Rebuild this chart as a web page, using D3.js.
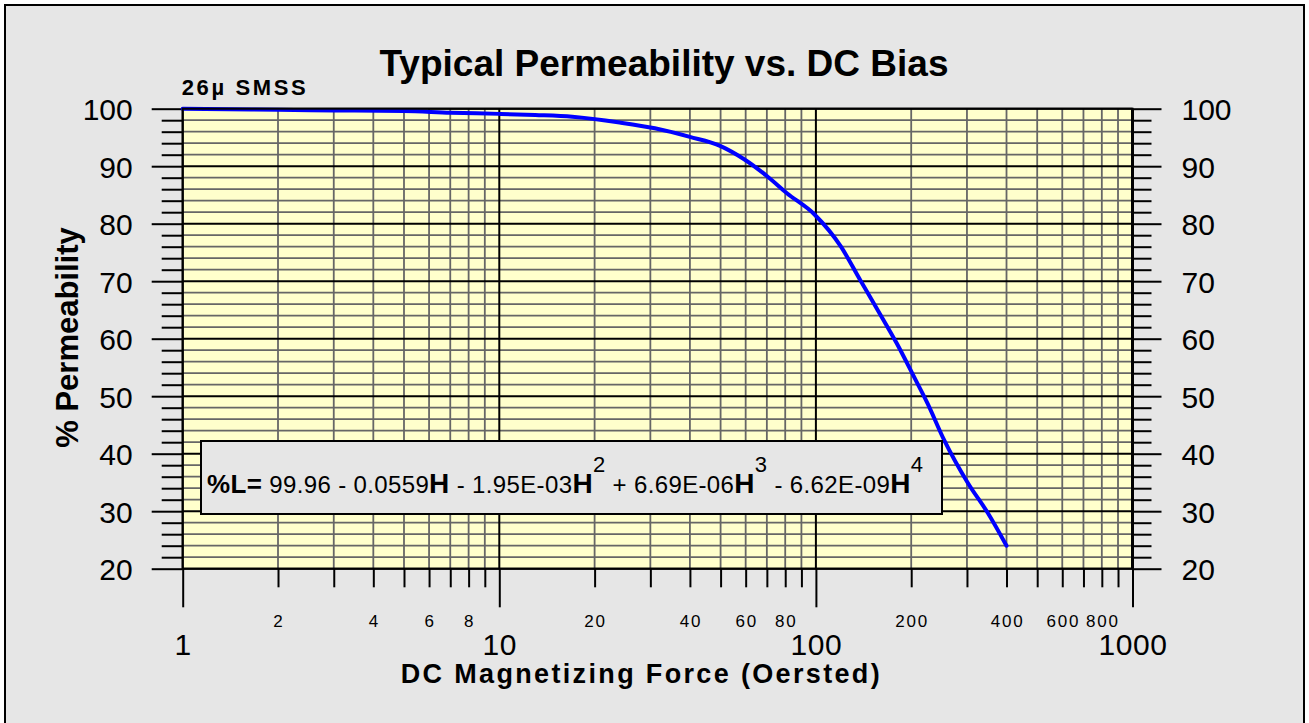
<!DOCTYPE html>
<html>
<head>
<meta charset="utf-8">
<script src="https://cdn.jsdelivr.net/npm/d3@7"></script>
<style>
  body { margin: 0; background: #fff; }
  text { font-family: "Liberation Sans", Arial, sans-serif; fill: #000; }
</style>
</head>
<body>
<div id="chart"></div>
<script>
// curve (H in Oersted, % permeability)
const fieldH = [1, 2, 3, 5, 7, 10, 13, 17, 24, 31, 40, 50, 59, 70, 81, 99, 120, 138, 159, 180, 204, 225, 254, 302, 350, 400];
const permeability = [100, 99.8, 99.7, 99.6, 99.3, 99.1, 98.9, 98.6, 97.6, 96.6, 95.1, 93.5, 91.3, 88.3, 85.3, 81.6, 76.0, 70.2, 64.4, 59.2, 53.4, 48.8, 42.4, 34.9, 29.6, 24.0];

// tick values / labels
const yMajor = [20, 30, 40, 50, 60, 70, 80, 90, 100];
const yMinor = d3.range(22, 100, 2).filter(v => v % 10 !== 0);
const xMajor = [1, 10, 100, 1000];
const xMinor = [2, 3, 4, 5, 6, 7, 8, 9, 20, 30, 40, 50, 60, 70, 80, 90, 200, 300, 400, 500, 600, 700, 800, 900];
const xMinorLabels = [2, 4, 6, 8, 20, 40, 60, 80, 200, 400, 600, 800];

const title = "Typical Permeability vs. DC Bias";
const subtitle = "26\u00b5 SMSS";
const yTitle = "% Permeability";
const xTitle = "DC Magnetizing Force (Oersted)";

// equation pieces: text, bold, superscript
const equation = [
    ["%L=", true, false], [" 99.96 - 0.0559", false, false], ["H", true, false],
    [" - 1.95E-03", false, false], ["H", true, false], ["2", false, true],
    [" + 6.69E-06", false, false], ["H", true, false], ["3", false, true],
    [" - 6.62E-09", false, false], ["H", true, false], ["4", false, true]
];

const W = 1309, H = 723;
const plot = { left: 182.7, right: 1132.5, top: 108.7, bottom: 568.7 };

const x = d3.scaleLog().domain([1, 1000]).range([plot.left, plot.right]);
const y = d3.scaleLinear().domain([20, 100]).range([plot.bottom, plot.top]);

const svg = d3.select("#chart").append("svg").attr("width", W).attr("height", H);

// chart area
svg.append("rect").attr("x", 5).attr("y", 5).attr("width", 1299).attr("height", 740)
    .attr("fill", "#e6e6e6").attr("stroke", "#000").attr("stroke-width", 2);

svg.append("rect").attr("x", plot.left).attr("y", plot.top)
    .attr("width", plot.right - plot.left).attr("height", plot.bottom - plot.top)
    .attr("fill", "#ffffcc");

// gridlines
const grid = svg.append("g");
grid.selectAll("line.hminor").data(yMinor).join("line").attr("class", "hminor")
    .attr("x1", plot.left).attr("x2", plot.right).attr("y1", d => y(d)).attr("y2", d => y(d))
    .attr("stroke", "#666").attr("stroke-width", 1.8);
grid.selectAll("line.vminor").data(xMinor).join("line").attr("class", "vminor")
    .attr("y1", plot.top).attr("y2", plot.bottom).attr("x1", d => x(d)).attr("x2", d => x(d))
    .attr("stroke", "#666").attr("stroke-width", 1.8);
grid.selectAll("line.hmajor").data(yMajor).join("line").attr("class", "hmajor")
    .attr("x1", plot.left).attr("x2", plot.right).attr("y1", d => y(d)).attr("y2", d => y(d))
    .attr("stroke", "#000").attr("stroke-width", 2);
grid.selectAll("line.vmajor").data(xMajor).join("line").attr("class", "vmajor")
    .attr("y1", plot.top).attr("y2", plot.bottom).attr("x1", d => x(d)).attr("x2", d => x(d))
    .attr("stroke", "#000").attr("stroke-width", d => d === 1000 ? 3 : 2);

// axes
const styleAxis = g => {
    g.select(".domain").remove();
    g.selectAll(".tick line").attr("stroke", "#000").attr("stroke-width", 2);
};

svg.append("g").attr("transform", `translate(${plot.left},0)`)
    .call(d3.axisLeft(y).tickValues(yMinor).tickSize(21).tickFormat(""))
    .call(styleAxis);
svg.append("g").attr("transform", `translate(${plot.left},0)`)
    .call(d3.axisLeft(y).tickValues(yMajor).tickSize(31).tickPadding(19).tickFormat(d3.format("d")))
    .call(styleAxis)
    .call(g => g.selectAll("text").attr("font-size", 30).attr("dy", "0.37em"));

svg.append("g").attr("transform", `translate(${plot.right},0)`)
    .call(d3.axisRight(y).tickValues(yMinor).tickSize(19).tickFormat(""))
    .call(styleAxis);
svg.append("g").attr("transform", `translate(${plot.right},0)`)
    .call(d3.axisRight(y).tickValues(yMajor).tickSize(29).tickPadding(20).tickFormat(d3.format("d")))
    .call(styleAxis)
    .call(g => g.selectAll("text").attr("font-size", 30).attr("dy", "0.37em"));

svg.append("g").attr("transform", `translate(0,${plot.bottom})`)
    .call(d3.axisBottom(x).tickValues(xMinor).tickSize(18.6).tickFormat(""))
    .call(styleAxis);
svg.append("g").attr("transform", `translate(0,${plot.bottom})`)
    .call(d3.axisBottom(x).tickValues(xMajor).tickSize(38.6).tickFormat(d3.format("d")))
    .call(styleAxis)
    .call(g => g.selectAll("text").attr("font-size", 30).attr("y", 86.3).attr("dy", 0)
        .attr("letter-spacing", 0.6));

svg.append("g").selectAll("text").data(xMinorLabels).join("text")
    .attr("x", d => x(d) + 1).attr("y", plot.bottom + 58)
    .attr("text-anchor", "middle").attr("font-size", 17).attr("letter-spacing", 1.8)
    .text(d => d);

// curve
const line = d3.line().x((d, i) => x(fieldH[i])).y(d => y(d)).curve(d3.curveMonotoneX);
svg.append("path").datum(permeability).attr("d", line)
    .attr("fill", "none").attr("stroke", "#0000ff").attr("stroke-width", 4)
    .attr("stroke-linejoin", "round").attr("stroke-linecap", "round");

// plot frame
svg.append("rect").attr("x", plot.left).attr("y", plot.top)
    .attr("width", plot.right - plot.left).attr("height", plot.bottom - plot.top)
    .attr("fill", "none").attr("stroke", "#000").attr("stroke-width", 2);

// equation box
svg.append("rect").attr("x", 201).attr("y", 441).attr("width", 741).attr("height", 73)
    .attr("fill", "#e6e6e6").attr("stroke", "#000").attr("stroke-width", 2);

const eq = svg.append("text").attr("x", 207).attr("y", 492.7)
    .attr("textLength", 716).attr("lengthAdjust", "spacing");
let raised = false;
equation.forEach(([t, bold, sup]) => {
    const ts = eq.append("tspan").text(t);
    if (sup) {
        ts.attr("font-size", 22).attr("dy", -21);
        raised = true;
    } else {
        if (raised) { ts.attr("dy", 21); raised = false; }
        ts.attr("font-size", bold ? (t === "H" ? 28 : 26) : 24)
            .attr("font-weight", bold ? "bold" : "normal");
    }
});

// titles
svg.append("text").attr("x", 664).attr("y", 76).attr("text-anchor", "middle")
    .attr("font-size", 37).attr("font-weight", "bold").text(title);

svg.append("text").attr("x", 181.7).attr("y", 95)
    .attr("font-size", 22).attr("font-weight", "bold")
    .attr("textLength", 124).attr("lengthAdjust", "spacing").text(subtitle);

svg.append("text").attr("transform", "translate(78,337.5) rotate(-90)")
    .attr("text-anchor", "middle").attr("font-size", 31).attr("font-weight", "bold")
    .text(yTitle);

svg.append("text").attr("x", 400.7).attr("y", 683)
    .attr("font-size", 27).attr("font-weight", "bold")
    .attr("textLength", 479).attr("lengthAdjust", "spacing").text(xTitle);
</script>
</body>
</html>
